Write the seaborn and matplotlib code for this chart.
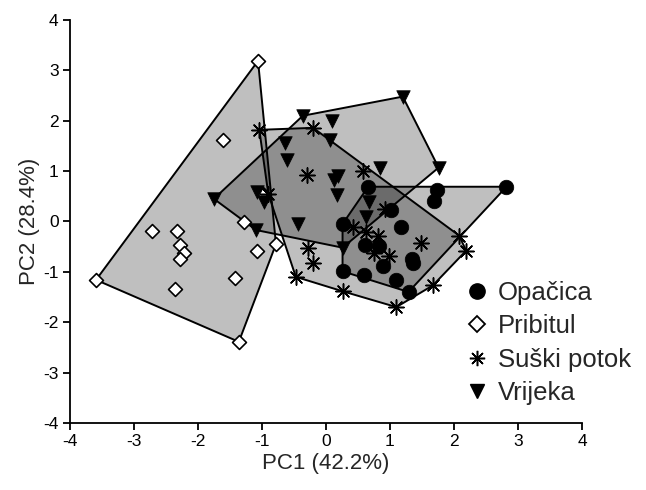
import numpy as np
import pandas as pd
import matplotlib
matplotlib.use("Agg")
import matplotlib.pyplot as plt
import seaborn as sns
from matplotlib.patches import Polygon
from matplotlib.lines import Line2D

# PCA scores
opacica_x = [0.66, 1.73, 1.69, 2.82, 1.01, 0.26, 1.18, 0.61, 0.83, 0.89, 1.34, 1.36, 0.26, 0.59, 1.10, 1.29]
opacica_y = [0.69, 0.63, 0.40, 0.69, 0.23, -0.05, -0.11, -0.46, -0.48, -0.89, -0.74, -0.82, -0.99, -1.07, -1.17, -1.40]

pribitul_x = [-1.06, -1.60, -2.72, -2.33, -2.28, -2.22, -2.28, -3.59, -2.36, -1.42, -1.07, -1.28, -1.36, -0.78, -0.99]
pribitul_y = [3.19, 1.61, -0.18, -0.18, -0.46, -0.63, -0.74, -1.16, -1.34, -1.12, -0.58, -0.01, -2.39, -0.45, 0.55]

suski_x = [-1.04, -0.20, -0.29, -0.90, 0.58, 0.93, 0.43, 0.63, 0.82, 0.75, 0.99, 1.49, 2.08, 2.19, 1.67, 1.10, 0.27, -0.47, -0.28, -0.20]
suski_y = [1.82, 1.86, 0.93, 0.55, 1.00, 0.25, -0.11, -0.21, -0.28, -0.62, -0.69, -0.43, -0.28, -0.58, -1.27, -1.70, -1.39, -1.10, -0.53, -0.82]

vrijeka_x = [-0.36, 0.09, 0.06, -0.64, -0.61, -1.75, -1.08, -0.97, -1.09, -0.43, 0.19, 0.13, 0.17, 0.85, 0.68, 0.63, 0.26, 1.20, 1.76]
vrijeka_y = [2.10, 1.99, 1.62, 1.55, 1.22, 0.45, 0.58, 0.38, -0.17, -0.05, 0.91, 0.83, 0.52, 1.07, 0.38, 0.09, -0.52, 2.48, 1.07]

groups = ["Opačica", "Pribitul", "Suški potok", "Vrijeka"]

df = pd.concat([
    pd.DataFrame({"PC1": opacica_x, "PC2": opacica_y, "site": "Opačica"}),
    pd.DataFrame({"PC1": pribitul_x, "PC2": pribitul_y, "site": "Pribitul"}),
    pd.DataFrame({"PC1": suski_x, "PC2": suski_y, "site": "Suški potok"}),
    pd.DataFrame({"PC1": vrijeka_x, "PC2": vrijeka_y, "site": "Vrijeka"}),
], ignore_index=True)


def hull(pts):
    # monotone chain convex hull
    pts = sorted(set(map(tuple, pts)))
    def cross(o, a, b):
        return (a[0] - o[0]) * (b[1] - o[1]) - (a[1] - o[1]) * (b[0] - o[0])
    lower, upper = [], []
    for p in pts:
        while len(lower) >= 2 and cross(lower[-2], lower[-1], p) <= 0:
            lower.pop()
        lower.append(p)
    for p in reversed(pts):
        while len(upper) >= 2 and cross(upper[-2], upper[-1], p) <= 0:
            upper.pop()
        upper.append(p)
    return np.array(lower[:-1] + upper[:-1])


sns.set_style("ticks")
plt.rcParams["font.family"] = ["Liberation Sans", "DejaVu Sans"]
plt.rcParams["axes.unicode_minus"] = False

fig = plt.figure(figsize=(6.46, 4.90), dpi=100)
ax = fig.add_axes([0.108, 0.137, 0.793, 0.822])

# convex hull polygons
for g in groups:
    sub = df[df["site"] == g]
    h = hull(sub[["PC1", "PC2"]].values)
    ax.add_patch(Polygon(h, closed=True, facecolor="black", alpha=0.25, edgecolor="none", zorder=1))
    ax.add_patch(Polygon(h, closed=True, facecolor="none", edgecolor="black", linewidth=1.4, zorder=2))

styles = {
    "Pribitul": dict(marker="D", color="white", edgecolor="black", linewidth=1.2, s=50),
    "Suški potok": dict(marker=(8, 2, 0), color="black", edgecolor="black", linewidth=1.1, s=120),
    "Opačica": dict(marker="o", color="black", edgecolor="black", linewidth=0.5, s=110),
    "Vrijeka": dict(marker="v", color="black", edgecolor="black", linewidth=0.5, s=95),
}
for g in ["Pribitul", "Suški potok", "Opačica", "Vrijeka"]:
    sns.scatterplot(data=df[df["site"] == g], x="PC1", y="PC2", ax=ax, zorder=3, legend=False, **styles[g])

ax.set_xlim(-4, 4)
ax.set_ylim(-4, 4)
ax.set_xticks(range(-4, 5))
ax.set_yticks(range(-4, 5))
ax.set_xlabel("PC1 (42.2%)", fontsize=16, labelpad=3)
ax.set_ylabel("PC2 (28.4%)", fontsize=16, labelpad=2)
ax.tick_params(labelsize=12.5, length=5, width=1.3, direction="out", colors="black", pad=3)
for sp in ["left", "bottom"]:
    ax.spines[sp].set_linewidth(1.3)
    ax.spines[sp].set_color("black")
sns.despine(ax=ax)

handles = [
    Line2D([], [], ls="", marker="o", color="black", markersize=11),
    Line2D([], [], ls="", marker="D", markerfacecolor="white", markeredgecolor="black", markersize=8, markeredgewidth=1.3),
    Line2D([], [], ls="", marker=(8, 2, 0), color="black", markersize=11, markeredgewidth=1.1),
    Line2D([], [], ls="", marker="v", color="black", markersize=10),
]
ax.legend(handles, groups, loc="lower left", bbox_to_anchor=(0.75, 0.013), frameon=False,
          fontsize=18.5, handlelength=0.8, handletextpad=0.4, labelspacing=0.36, borderpad=0)

fig.savefig("out.png", dpi=100)
